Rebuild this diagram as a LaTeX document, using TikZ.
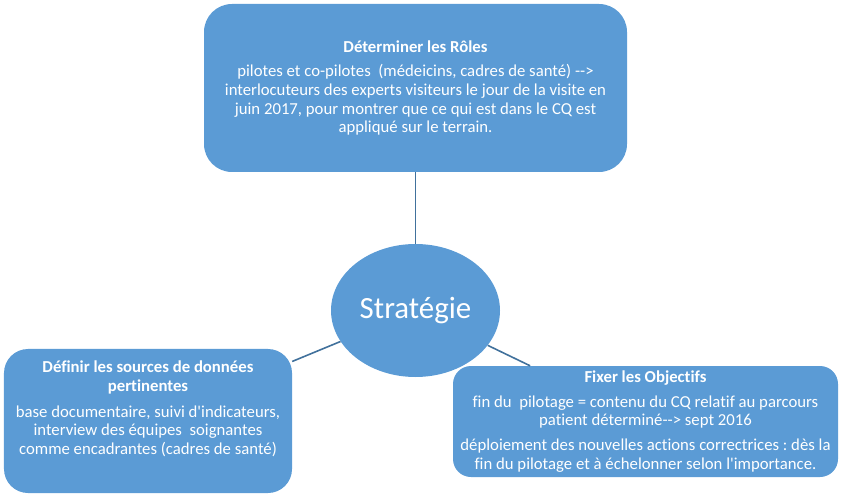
\documentclass[tikz,border=0pt]{standalone}
\usepackage{fontspec}
\setmainfont{Carlito}[Ligatures=NoCommon]
\usetikzlibrary{shapes.geometric}
\definecolor{boxblue}{HTML}{5B9BD5}
\definecolor{linkblue}{HTML}{41719C}
\newcommand{\arr}{-\kern0pt->}
\frenchspacing

\begin{document}
\begin{tikzpicture}[x=1bp,y=-1bp,
  box/.style={fill=boxblue,rounded corners=#1},
  txt/.style={text=white,align=center,inner sep=0pt,font=\fontsize{16.8}{18.8}\selectfont},
  link/.style={draw=linkblue,line width=1.6bp}]
  \useasboundingbox (0,0) rectangle (844,498);
  \node[box=28bp,minimum width=423bp,minimum height=168bp](roles) at (415.5,88) {};
  \node[box=24bp,minimum width=288bp,minimum height=144bp](sources) at (148,421) {};
  \node[box=18bp,minimum width=385bp,minimum height=111bp](goals) at (645.5,421.5) {};
  \node[ellipse,fill=boxblue,minimum width=169bp,minimum height=133bp,text=white,
        font=\fontsize{31}{36}\selectfont](strat) at (415.5,310.5) {Stratégie};
  \path[link] (strat) -- (roles);
  \path[link] (strat) -- (sources);
  \path[link] (strat) -- (goals);
  \node[txt] at (roles.center) {\textbf{Déterminer les Rôles}\\[6bp]
    pilotes et co-pilotes\ \ (médeicins, cadres de santé) \arr\\
    interlocuteurs des experts visiteurs le jour de la visite en\\
    juin 2017, pour montrer que ce qui est dans le CQ est\\
    appliqué sur le terrain.};
  \node[txt] at (148,409) {\textbf{Définir les sources de données}\\
    \textbf{pertinentes}\\[7bp]
    base documentaire, suivi d\textquotesingle indicateurs,\\
    interview des équipes\ \ soignantes\\
    comme encadrantes (cadres de santé)};
  \node[txt] at (goals.center) {\textbf{Fixer les Objectifs}\\[6bp]
    fin du\ \ pilotage = contenu du CQ relatif au parcours\\
    patient déterminé\arr\ sept 2016\\[6bp]
    déploiement des nouvelles actions correctrices : dès la\\
    fin du pilotage et à échelonner selon l\textquotesingle importance.};
\end{tikzpicture}
\end{document}
